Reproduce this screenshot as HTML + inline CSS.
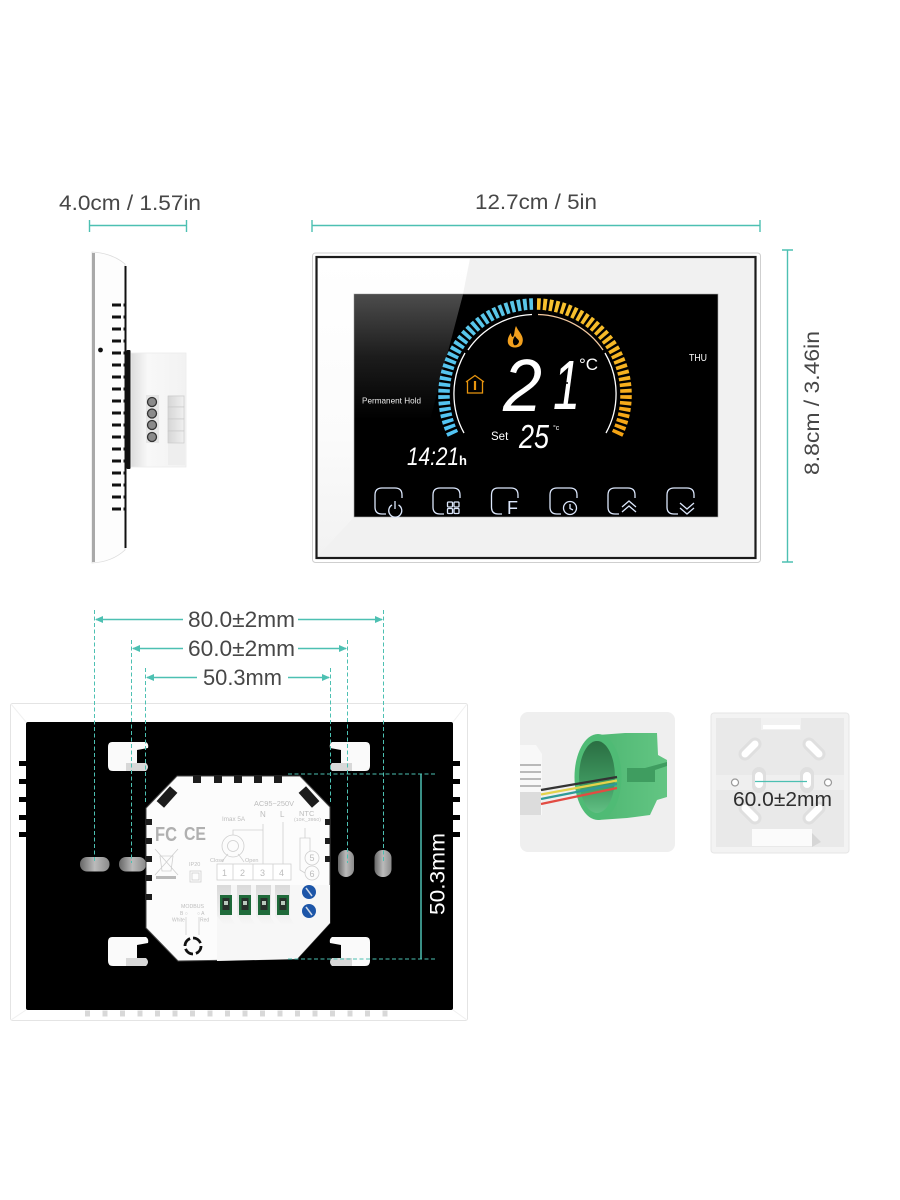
<!DOCTYPE html>
<html><head><meta charset="utf-8"><title>Thermostat dimensions</title>
<style>html,body{margin:0;padding:0;background:#fff}svg{display:block}text{font-family:"Liberation Sans",sans-serif}</style></head>
<body>
<svg xmlns="http://www.w3.org/2000/svg" width="900" height="1200" viewBox="0 0 900 1200">
<defs>
<linearGradient id="frame" x1="0" y1="0" x2="1" y2=".5"><stop offset="0" stop-color="#fff"/><stop offset="1" stop-color="#fafafa"/></linearGradient>
<linearGradient id="framel" x1="0" y1="0" x2="0" y2="1"><stop offset="0" stop-color="#fff"/><stop offset=".6" stop-color="#fbfbfb"/><stop offset="1" stop-color="#f2f2f2"/></linearGradient>
<linearGradient id="gloss" x1="0" y1="0" x2="0" y2="1"><stop offset="0" stop-color="#4c4c4c"/><stop offset=".5" stop-color="#1c1c1c"/><stop offset="1" stop-color="#000"/></linearGradient>
<linearGradient id="blue" x1="0" y1="0" x2="0" y2="1"><stop offset="0" stop-color="#5ac6e8"/><stop offset="1" stop-color="#52c4f4"/></linearGradient>
<linearGradient id="amber" x1="0" y1="0" x2="0" y2="1"><stop offset="0" stop-color="#f7c12e"/><stop offset="1" stop-color="#f5a313"/></linearGradient>
<linearGradient id="hole" x1="0" y1="0" x2="1" y2="0"><stop offset="0" stop-color="#666"/><stop offset=".5" stop-color="#bbb"/><stop offset="1" stop-color="#8a8a8a"/></linearGradient>
<linearGradient id="sidebox" x1="0" y1="0" x2="1" y2="0"><stop offset="0" stop-color="#dcdcdc"/><stop offset=".3" stop-color="#f8f8f8"/><stop offset="1" stop-color="#f2f2f2"/></linearGradient>
<linearGradient id="slat" x1="0" y1="0" x2="1" y2="0"><stop offset="0" stop-color="#d6d6d6"/><stop offset="1" stop-color="#f0f0f0"/></linearGradient>
<linearGradient id="green" x1="0" y1="0" x2="1" y2="0"><stop offset="0" stop-color="#4fb873"/><stop offset="1" stop-color="#63c583"/></linearGradient>
<linearGradient id="inner" x1="0" y1="0" x2="0" y2="1"><stop offset="0" stop-color="#2a6e42"/><stop offset=".6" stop-color="#3f9860"/><stop offset="1" stop-color="#62c084"/></linearGradient>
<linearGradient id="term" x1="0" y1="0" x2="0" y2="1"><stop offset="0" stop-color="#d9d9d9"/><stop offset="1" stop-color="#f7f7f7"/></linearGradient>
<g id="key"><path d="M112 742H146Q149 744 148 748L137 750V763H126V771H113Q108 771 108 766V747Q108 742 112 742Z" fill="#fafafa"/><path d="M126 763H146Q150 767 146 771H126Z" fill="#d8d8d8"/></g>
<path id="ah" d="M0 0L8-3.500V3.500Z" fill="#4dc0b2"/>
</defs>

<!-- top dimensions -->
<g fill="#474747" font-size="21.500">
<text x="59" y="210" textLength="142" lengthAdjust="spacingAndGlyphs">4.0cm / 1.57in</text>
<text x="475" y="209" textLength="122" lengthAdjust="spacingAndGlyphs">12.7cm / 5in</text>
<text transform="translate(819 475) rotate(-90)" textLength="144" lengthAdjust="spacingAndGlyphs">8.8cm / 3.46in</text>
</g>
<g stroke="#4dc0b2" stroke-width="1.400" fill="none">
<path d="M89.500 220V232M186.500 220V232M89.500 225.500H186.500"/>
<path d="M312 220V232M760 220V232M312 225.500H760"/>
<path d="M787.500 250V562M782 250H793M782 562H793"/>
</g>

<!-- side view -->
<path d="M92 252Q112 253 125 264V550Q112 562 92 563Z" fill="#fdfdfd" stroke="#dcdcdc" stroke-width=".8"/>
<rect x="92" y="253" width="3" height="309" fill="#a9a9a9"/>
<rect x="124.500" y="266" width="2" height="282" fill="#111"/>
<rect x="126.500" y="350" width="4" height="119" rx="1" fill="#111"/>
<rect x="131" y="353" width="55" height="114" fill="url(#sidebox)" stroke="#ececec" stroke-width=".8"/>
<rect x="146" y="395" width="13" height="48" fill="#e6e6e6"/>
<rect x="168" y="395" width="17" height="70" fill="#eeeeee"/>
<g fill="url(#slat)" stroke="#c6c6c6" stroke-width=".6"><rect x="168" y="396" width="16" height="11"/><rect x="168" y="407" width="16" height="12"/><rect x="168" y="419" width="16" height="12"/><rect x="168" y="431" width="16" height="12"/></g>
<g fill="#8b8b8b" stroke="#333" stroke-width="1.300"><circle cx="152" cy="402" r="4.500"/><circle cx="152" cy="413.500" r="4.500"/><circle cx="152" cy="425" r="4.500"/><circle cx="152" cy="437" r="4.500"/></g>
<circle cx="100.500" cy="350" r="2.400" fill="#111"/>
<g stroke="#111" stroke-width="3" stroke-dasharray="9 2.500 2 30" fill="none">
<path d="M112 305H125M112 317H125M112 329H125M112 341H125M112 353H125M112 365H125M112 377H125M112 389H125M112 401H125M112 413H125M112 425H125M112 437H125M112 449H125M112 461H125M112 473H125M112 485H125M112 497H125M112 509H125"/>
</g>

<!-- front panel -->
<rect x="312.500" y="253" width="448" height="309.500" rx="3" fill="#fff" stroke="#cfcfcf"/>
<rect x="316.500" y="257" width="439" height="301" fill="#f1f1f1" stroke="#1b1b1b" stroke-width="2.200"/>
<polygon points="318,258.500 470,258.500 463,294 354,294 354,517 318,556" fill="url(#framel)"/>
<rect x="354" y="294" width="364" height="223" fill="#000" stroke="#aaa" stroke-width=".6"/>
<polygon points="354.500,294.500 463,294.500 430,420 354.500,420" fill="url(#gloss)"/>
<!-- gauge ticks -->
<path d="M533 304A91 91 0 0 0 454 436.500" pathLength="30" fill="none" stroke="url(#blue)" stroke-width="11.500" stroke-dasharray=".6 .4"/>
<path d="M537 304A91 91 0 0 1 616 436.500" pathLength="30" fill="none" stroke="url(#amber)" stroke-width="11.500" stroke-dasharray=".6 .4"/>
<g fill="none" stroke-width="1.300">
<path d="M532 314.500A81 81 0 0 0 468 350" stroke="#fff"/>
<path d="M465 353A81 81 0 0 0 464 433" stroke="#fff"/>
<path d="M538 314.500A81 81 0 0 1 603 350" stroke="#f3c9a0"/>
<path d="M605 353A81 81 0 0 1 606 433" stroke="#fff"/>
</g>
<!-- flame & house -->
<path d="M516 326C519 333 525 336 522 344C520 348 512 349 509 345C506 341 509 335 511 333C511 336 512 337 513 337C515 334 514 330 516 326ZM515 336C513 339 512 342 514 345C516 346 519 344 519 341C518 339 516 338 515 336Z" fill="#f2a01e" fill-rule="evenodd"/>
<g fill="none" stroke="#e8950f" stroke-width="1.300"><path d="M466 382L475 375.500L484 382"/><path d="M467.500 380.500V393H482.500V380.500"/><path d="M475 381V390" stroke-width="2.200"/></g>
<!-- LCD text -->
<g fill="#fff">
<text x="503" y="411" font-size="74" font-style="italic" textLength="39" lengthAdjust="spacingAndGlyphs">2</text>
<text x="553" y="409" font-size="70" font-style="italic" textLength="27" lengthAdjust="spacingAndGlyphs">1</text>
<text x="579" y="370" font-size="17">°C</text>
<text x="491" y="440" font-size="11.500">Set</text>
<text x="519" y="448" font-size="33" font-style="italic" textLength="30" lengthAdjust="spacingAndGlyphs">25</text>
<text x="553" y="430" font-size="7">°c</text>
<text x="407" y="465" font-size="25" font-style="italic" textLength="52" lengthAdjust="spacingAndGlyphs">14:21</text>
<text x="459" y="465" font-size="13" font-weight="bold">h</text>
<text x="362" y="403.500" font-size="8.500" fill="#ececec" textLength="59" lengthAdjust="spacingAndGlyphs">Permanent Hold</text>
<text x="689" y="361" font-size="10.500" textLength="18" lengthAdjust="spacingAndGlyphs">THU</text>
</g>
<path d="M505 384L512 382M540 383L535 386M568 383L562 383" stroke="#000" stroke-width="1.600"/>
<!-- buttons -->
<g fill="none" stroke="#dbe6fb" stroke-width="1.300">
<path d="M402 498V495Q402 488 395 488H382Q375 488 375 495V507Q375 514 382 514H386"/>
<path d="M460 498V495Q460 488 453 488H440Q433 488 433 495V507Q433 514 440 514H444"/>
<path d="M518 498V495Q518 488 511 488H498Q491.500 488 491.500 495V507Q491.500 514 498 514H502"/>
<path d="M577 498V495Q577 488 570 488H557Q550 488 550 495V507Q550 514 557 514H561"/>
<path d="M635 498V495Q635 488 628 488H615Q608 488 608 495V507Q608 514 615 514H619"/>
<path d="M694 498V495Q694 488 687 488H674Q667 488 667 495V507Q667 514 674 514H678"/>
<path d="M392 505A6.500 6.500 0 1 0 398.500 505M395 501V509"/>
<rect x="447.500" y="502" width="5" height="5" rx="1"/><rect x="454" y="502" width="5" height="5" rx="1"/><rect x="447.500" y="508.500" width="5" height="5" rx="1"/><rect x="454" y="508.500" width="5" height="5" rx="1"/>
<circle cx="570" cy="508" r="6.500"/><path d="M570 504V508.500L573 510"/>
<path d="M622 507L629 501L636 507M622 512L629 506L636 512"/>
<path d="M680 503L687 509L694 503M680 508L687 514L694 508"/>
</g>
<text x="507" y="514" font-size="18" fill="#dbe6fb">F</text>

<!-- back panel -->
<rect x="10.500" y="703.500" width="457" height="317" rx="2" fill="#fff" stroke="#e4e4e4"/>
<path d="M11 704L26 722M467 704L453 722M11 1020L26 1010M467 1020L453 1010" stroke="#f0f0f0"/>
<rect x="26" y="722" width="427" height="288" rx="2" fill="#000"/>
<g fill="#000"><rect x="19" y="761" width="7" height="5"/><rect x="19" y="779" width="7" height="5"/><rect x="19" y="797" width="7" height="5"/><rect x="19" y="815" width="7" height="5"/><rect x="19" y="832" width="7" height="5"/>
<rect x="453" y="761" width="7" height="5"/><rect x="453" y="779" width="7" height="5"/><rect x="453" y="797" width="7" height="5"/><rect x="453" y="815" width="7" height="5"/><rect x="453" y="832" width="7" height="5"/></g>
<path d="M85 1013.500H392" stroke="#d8d8d8" stroke-width="6" stroke-dasharray="5 12.500"/>
<use href="#key"/>
<use href="#key" transform="translate(478 0) scale(-1 1)"/>
<use href="#key" transform="translate(0 195)"/>
<use href="#key" transform="translate(478 195) scale(-1 1)"/>
<rect x="80" y="857" width="29.500" height="14.500" rx="7" fill="url(#hole)"/>
<rect x="119" y="857" width="27" height="14.500" rx="7" fill="url(#hole)"/>
<rect x="338" y="850" width="16" height="27" rx="8" fill="url(#hole)"/>
<rect x="374.500" y="850" width="17" height="27" rx="8" fill="url(#hole)"/>
<!-- module -->
<polygon points="177,776 300,776 330,807 330,923 297,959 178,961 146,928 146,808" fill="#fcfcfc" stroke="#444" stroke-width="1"/>
<polygon points="217,885 330,885 330,923 297,959 217,961" fill="#f7f7f7"/>
<g fill="#1c1c1c"><rect x="193" y="776" width="8" height="7"/><rect x="214" y="776" width="8" height="7"/><rect x="234" y="776" width="8" height="7"/><rect x="254" y="776" width="8" height="7"/><rect x="274" y="776" width="8" height="7"/>
<rect x="157" y="792" width="20" height="10" transform="rotate(-48 167 797)"/><rect x="299" y="792" width="20" height="10" transform="rotate(48 309 797)"/>
<rect x="146" y="819" width="6" height="6"/><rect x="146" y="838" width="6" height="6"/><rect x="146" y="856" width="6" height="6"/><rect x="146" y="875" width="6" height="6"/><rect x="146" y="894" width="6" height="6"/>
<rect x="325" y="819" width="5" height="6"/><rect x="325" y="838" width="5" height="6"/><rect x="325" y="856" width="5" height="6"/></g>
<g fill="url(#term)"><polygon points="217,885 231,885 231,918 236,925 224,925 217,916"/><polygon points="237,885 251,885 251,918 256,925 243,925 237,916"/><polygon points="256,885 271,885 271,918 276,925 263,925 256,916"/><polygon points="275,885 290,885 290,918 295,925 282,925 275,916"/></g>
<g fill="#1f6a3a"><rect x="220" y="895" width="12" height="20"/><rect x="239" y="895" width="12" height="20"/><rect x="258" y="895" width="12" height="20"/><rect x="277" y="895" width="12" height="20"/></g>
<g fill="#26302a"><rect x="222.500" y="898" width="7" height="12"/><rect x="241.500" y="898" width="7" height="12"/><rect x="260.500" y="898" width="7" height="12"/><rect x="279.500" y="898" width="7" height="12"/></g>
<g fill="#b9cabd"><rect x="224" y="901" width="4" height="4"/><rect x="243" y="901" width="4" height="4"/><rect x="262" y="901" width="4" height="4"/><rect x="281" y="901" width="4" height="4"/></g>
<circle cx="309" cy="892" r="7" fill="#1d56a8"/><circle cx="309" cy="911" r="7" fill="#1d56a8"/>
<path d="M306 888L312 896M306 907L312 915" stroke="#cdd8e8" stroke-width="1.500"/>
<g fill="#fff" stroke="#d0d0d0" stroke-width=".8"><rect x="217" y="864" width="74" height="16"/><path d="M233 864V880M253 864V880M273 864V880" fill="none"/></g>
<g fill="none" stroke="#cfcfcf" stroke-width=".8">
<circle cx="233" cy="846" r="11"/><circle cx="233" cy="846" r="5.500"/>
<path d="M233 835V830H263M263 824V864M283 822V864M222 862Q226 856 228 854M244 862Q240 856 238 854"/>
<circle cx="312" cy="858" r="7"/><circle cx="312" cy="873" r="7"/>
<path d="M305 828V838H300V870L305 873M305 838H310V851"/>
<rect x="190" y="871" width="11" height="11"/><rect x="192" y="873" width="7" height="7"/>
<path d="M155 849L178 875M178 849L155 875M160 856H173L171 871H162Z"/>
<path d="M186 917V935M199 917V935"/>
</g>
<rect x="156" y="876" width="20" height="3" fill="#bbb"/>
<g fill="#bdbdbd" font-size="6.500">
<text x="155" y="841" font-size="20" font-weight="bold" fill="#b0b0b0" textLength="22" lengthAdjust="spacingAndGlyphs">FC</text>
<text x="184" y="840" font-size="18" font-weight="bold" fill="#b0b0b0" textLength="22" lengthAdjust="spacingAndGlyphs">CE</text>
<text x="254" y="806" font-size="7.500" textLength="40" lengthAdjust="spacingAndGlyphs">AC95~250V</text>
<text x="222" y="821" textLength="23" lengthAdjust="spacingAndGlyphs">Imax 5A</text>
<text x="260" y="817" font-size="8">N</text><text x="280" y="817" font-size="8">L</text>
<text x="299" y="816" font-size="7.500">NTC</text>
<text x="294" y="821" font-size="4.500" textLength="27" lengthAdjust="spacingAndGlyphs">(10K_3950)</text>
<text x="189" y="866" font-size="5.500">IP20</text>
<text x="210" y="862" font-size="5.500">Close</text><text x="245" y="862" font-size="5.500">Open</text>
<text x="181" y="908" font-size="5.500" textLength="23" lengthAdjust="spacingAndGlyphs">MODBUS</text>
<text x="180" y="915" font-size="5">B ○</text><text x="197" y="915" font-size="5">○ A</text>
<text x="172" y="921.500" font-size="5">White</text><text x="200" y="921.500" font-size="5">Red</text>
<text x="222" y="876" font-size="9">1</text><text x="240" y="876" font-size="9">2</text><text x="260" y="876" font-size="9">3</text><text x="279" y="876" font-size="9">4</text>
<text x="309.500" y="861" font-size="9">5</text><text x="309.500" y="877" font-size="9">6</text>
</g>
<circle cx="193" cy="946" r="8" fill="none" stroke="#111" stroke-width="2.800" stroke-dasharray="9.500 3"/>

<!-- dimension lines back -->
<g stroke="#4dc0b2" stroke-width="1" stroke-dasharray="4 2.500" fill="none">
<path d="M94.500 610V863M131.500 640V863M145.500 668V802M330.500 668V802M347.500 640V863M383.500 610V863"/>
<path d="M288 774H435M288 959H435"/>
</g>
<g stroke="#4dc0b2" stroke-width="1.500" fill="none">
<path d="M96 619.500H183M298 619.500H382M133 648.500H183M298 648.500H346M147 677.500H197M288 677.500H329M421 774V959"/>
</g>
<use href="#ah" transform="translate(95 619.500)"/><use href="#ah" transform="translate(383 619.500) scale(-1 1)"/>
<use href="#ah" transform="translate(132 648.500)"/><use href="#ah" transform="translate(347 648.500) scale(-1 1)"/>
<use href="#ah" transform="translate(146 677.500)"/><use href="#ah" transform="translate(330 677.500) scale(-1 1)"/>
<g fill="#474747" font-size="22">
<text x="188" y="627" textLength="107" lengthAdjust="spacingAndGlyphs">80.0±2mm</text>
<text x="188" y="656" textLength="107" lengthAdjust="spacingAndGlyphs">60.0±2mm</text>
<text x="203" y="685" textLength="79" lengthAdjust="spacingAndGlyphs">50.3mm</text>
</g>
<text transform="translate(444.500 915) rotate(-90)" fill="#fff" font-size="21" textLength="82" lengthAdjust="spacingAndGlyphs">50.3mm</text>

<!-- green box picture -->
<rect x="520" y="712" width="155" height="140" rx="8" fill="#efefef"/>
<path d="M520 745H536L542 754V815H520Z" fill="#f8f8f8"/>
<g stroke="#b0b0b0" stroke-width="1.800"><path d="M520 765H541M520 772H541M520 779H541M520 786H541"/></g>
<rect x="520" y="792" width="21" height="23" fill="#dcdcdc"/>
<polygon points="598,735 625,733 657,733 658,755 667,760 667,797 657,800 650,815 627,818 598,820" fill="url(#green)"/>
<path d="M627 782H655V770L667 766V762L645 768H627Z" fill="#3f9d60"/>
<ellipse cx="598" cy="777" rx="23.500" ry="43" fill="#4fbb75"/>
<ellipse cx="597" cy="777" rx="18" ry="36" fill="url(#inner)"/>
<g stroke-width="2.200" fill="none"><path d="M541 790L617 777" stroke="#333"/><path d="M541 794.500L617 780.500" stroke="#e3d24b"/><path d="M541 799L617 784" stroke="#2f9a98"/><path d="M541 804L617 788" stroke="#e24b42"/></g>

<!-- junction box -->
<rect x="711" y="713" width="138" height="140" rx="3" fill="#f3f3f3" stroke="#e6e6e6"/>
<rect x="716" y="718" width="128" height="129" fill="#e9e9e9"/>
<polygon points="761,718 801,718 801,730 761,730" fill="#f1f1f1"/>
<rect x="716" y="775" width="128" height="15" fill="#efefef"/>
<rect x="763" y="725" width="37" height="4" fill="#fff"/>
<g stroke="#dfdfdf" stroke-width="13" stroke-linecap="round">
<path d="M745 754L755 744M809 744L819 754M745 808L755 818M819 808L809 818"/>
<path d="M759 774V786M807 774V786" stroke-width="14"/>
</g>
<g stroke="#fff" stroke-width="7" stroke-linecap="round">
<path d="M745 754L755 744M809 744L819 754M745 808L755 818M819 808L809 818"/>
<path d="M759 776V784M807 776V784" stroke-width="8"/>
</g>
<circle cx="735" cy="782.500" r="3.500" fill="#fff" stroke="#999" stroke-width="1.200"/>
<circle cx="828" cy="782.500" r="3.500" fill="#fff" stroke="#999" stroke-width="1.200"/>
<rect x="752" y="829" width="60" height="17" fill="#fbfbfb"/>
<polygon points="812,833 821,842 812,847" fill="#d6d6d6"/>
<path d="M755 781.500H807" stroke="#4dc0b2" stroke-width="1.200"/>
<text x="733" y="806" fill="#2e2e2e" font-size="20" textLength="99" lengthAdjust="spacingAndGlyphs">60.0±2mm</text>
</svg>
</body></html>
